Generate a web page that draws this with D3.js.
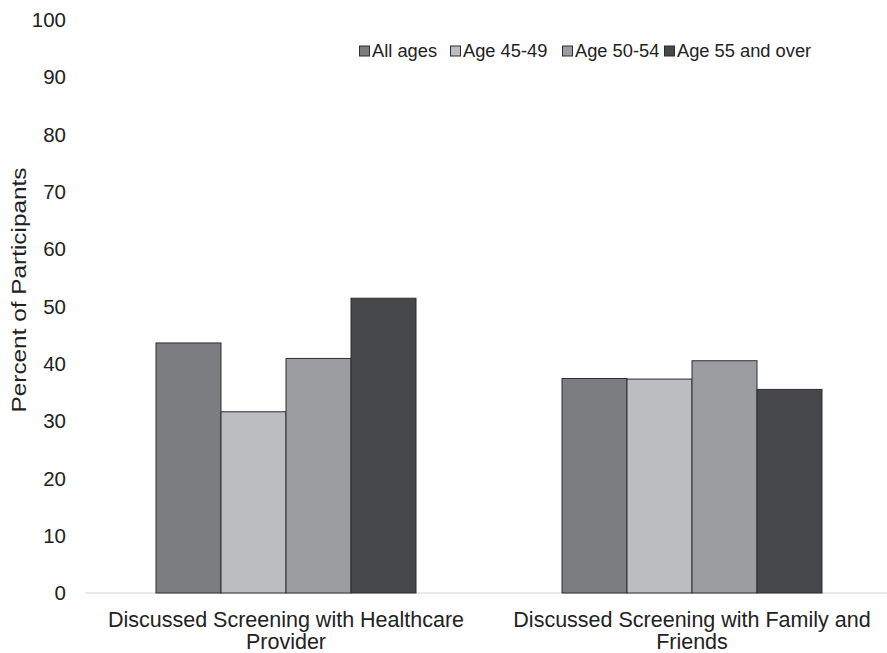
<!DOCTYPE html>
<html>
<head>
<meta charset="utf-8">
<script src="https://cdn.jsdelivr.net/npm/d3@7"></script>
<style>
  body { margin: 0; background: #fff; }
  text { font-family: "Liberation Sans", Arial, sans-serif; fill: #222; }
</style>
</head>
<body>
<div id="plot"></div>
<script>
var categories = [["Discussed Screening with Healthcare", "Provider"], ["Discussed Screening with Family and", "Friends"]];
var series = ["All ages", "Age 45-49", "Age 50-54", "Age 55 and over"];
var allAges = [43.6, 37.4];
var age4549 = [31.6, 37.3];
var age5054 = [40.9, 40.5];
var age55 = [51.4, 35.5];
var yTicks = [0, 10, 20, 30, 40, 50, 60, 70, 80, 90, 100];
var colors = ["#7c7d81", "#bcbdc1", "#9c9da1", "#464749"];

var values = [allAges, age4549, age5054, age55];

var width = 887, height = 653;
var margin = { top: 19.5, right: 0, bottom: 60, left: 85 };

var svg = d3.select("#plot").append("svg")
  .attr("width", width)
  .attr("height", height);

var x = d3.scaleBand()
  .domain(d3.range(categories.length))
  .range([83, 895]);

var y = d3.scaleLinear()
  .domain([0, 100])
  .range([height - margin.bottom, margin.top]);

var xs = d3.scaleBand()
  .domain(d3.range(series.length))
  .range([0, 260]);

// axis line at zero
svg.append("line")
  .attr("x1", margin.left)
  .attr("x2", width)
  .attr("y1", y(0))
  .attr("y2", y(0))
  .style("stroke", "#d4d4d4")
  .style("stroke-width", 1);

// y tick labels
svg.selectAll("text.ytick")
  .data(yTicks)
  .enter()
  .append("text")
  .attr("class", "ytick")
  .attr("x", 66)
  .attr("y", function(d) { return y(d); })
  .attr("dy", "0.36em")
  .style("text-anchor", "end")
  .style("font-size", "20.5px")
  .text(function(d) { return d; });

// y title
svg.append("text")
  .attr("transform", "translate(26,290) rotate(-90)")
  .attr("text-anchor", "middle")
  .attr("textLength", 245)
  .attr("lengthAdjust", "spacingAndGlyphs")
  .style("font-size", "19.5px")
  .text("Percent of Participants");

// bars
series.forEach(function(s, si) {
  svg.selectAll("rect.s" + si)
    .data(values[si])
    .enter()
    .append("rect")
    .attr("class", "s" + si)
    .attr("x", function(d, i) { return x(i) + (x.bandwidth() - 260) / 2 + xs(si); })
    .attr("width", xs.bandwidth())
    .attr("y", function(d) { return y(d); })
    .attr("height", function(d) { return y(0) - y(d); })
    .style("fill", colors[si])
    .style("stroke", "#2e2e30")
    .style("stroke-width", 1);
});

// category labels
categories.forEach(function(lines, i) {
  var t = svg.append("text")
    .attr("x", x(i) + x.bandwidth() / 2)
    .attr("y", 627)
    .style("text-anchor", "middle")
    .style("font-size", "21.5px");
  lines.forEach(function(l, li) {
    t.append("tspan")
      .attr("x", x(i) + x.bandwidth() / 2)
      .attr("dy", li == 0 ? 0 : 22)
      .text(l);
  });
});

// legend
var legendX = [359, 450, 562, 664];
var legend = svg.selectAll("g.legend")
  .data(series)
  .enter()
  .append("g")
  .attr("class", "legend")
  .attr("transform", function(d, i) { return "translate(" + legendX[i] + ",51)"; });

legend.append("rect")
  .attr("x", 0.5)
  .attr("y", -5)
  .attr("width", 10)
  .attr("height", 10)
  .style("fill", function(d, i) { return colors[i]; })
  .style("stroke", "#2e2e30")
  .style("stroke-width", 1);

legend.append("text")
  .attr("x", 13)
  .attr("y", 0)
  .attr("dy", "0.35em")
  .style("font-size", "18.3px")
  .text(function(d) { return d; });
</script>
</body>
</html>
